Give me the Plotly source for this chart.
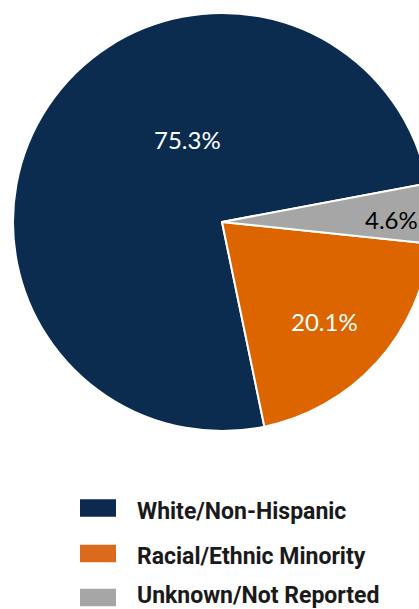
import plotly.graph_objects as go

categories = ["White/Non-Hispanic", "Racial/Ethnic Minority", "Unknown/Not Reported"]
values = [75.3, 20.1, 4.6]
colors = ["#0b2b4f", "#dc6500", "#a6a6a6"]
label_colors = ["white", "white", "black"]
legend_colors = ["#0c2a4d", "#dc6a1c", "#a6a6a6"]

W, H = 440, 609
cx, cy, r = 222, 222, 209

fig = go.Figure(go.Pie(
    labels=categories,
    values=values,
    sort=False,
    direction="counterclockwise",
    rotation=168.3,
    marker=dict(colors=colors, line=dict(color="white", width=2)),
    textinfo="none",
    hoverinfo="label+percent",
    domain=dict(x=[(cx - r) / W, (cx + r) / W], y=[1 - (cy + r) / H, 1 - (cy - r) / H]),
    showlegend=False,
))

# data labels (positions as in the reference)
label_pos = [(187.5, 139), (324.5, 321), (391, 219)]
for v, (px, py), c in zip(values, label_pos, label_colors):
    fig.add_annotation(x=px / W, y=1 - py / H, xref="paper", yref="paper",
                       text=f"{v:.1f}%", showarrow=False,
                       font=dict(family="Lato, Noto Sans, sans-serif", size=24, color=c),
                       xanchor="center", yanchor="middle")

# manual legend
marker_centers = [508, 553.5, 597.5]
text_centers = [511.5, 556.5, 595.5]
for cat, col, ym, yt in zip(categories, legend_colors, marker_centers, text_centers):
    fig.add_shape(type="rect", xref="paper", yref="paper",
                  x0=80 / W, x1=116 / W, y0=1 - (ym + 8.7) / H, y1=1 - (ym - 8.7) / H,
                  fillcolor=col, line=dict(width=0))
    fig.add_annotation(x=135 / W, y=1 - yt / H, xref="paper", yref="paper",
                       text=f"<b>{cat}</b>", showarrow=False,
                       font=dict(family="Roboto, Liberation Sans, sans-serif", size=23, color="#1a1a1a"),
                       xanchor="left", yanchor="middle")

fig.update_layout(width=W, height=H, margin=dict(l=0, r=0, t=0, b=0),
                  paper_bgcolor="white", plot_bgcolor="white")

fig.write_html("out.html", post_script="document.body.style.overflow='hidden';document.documentElement.style.overflow='hidden';document.body.style.margin='0';")
